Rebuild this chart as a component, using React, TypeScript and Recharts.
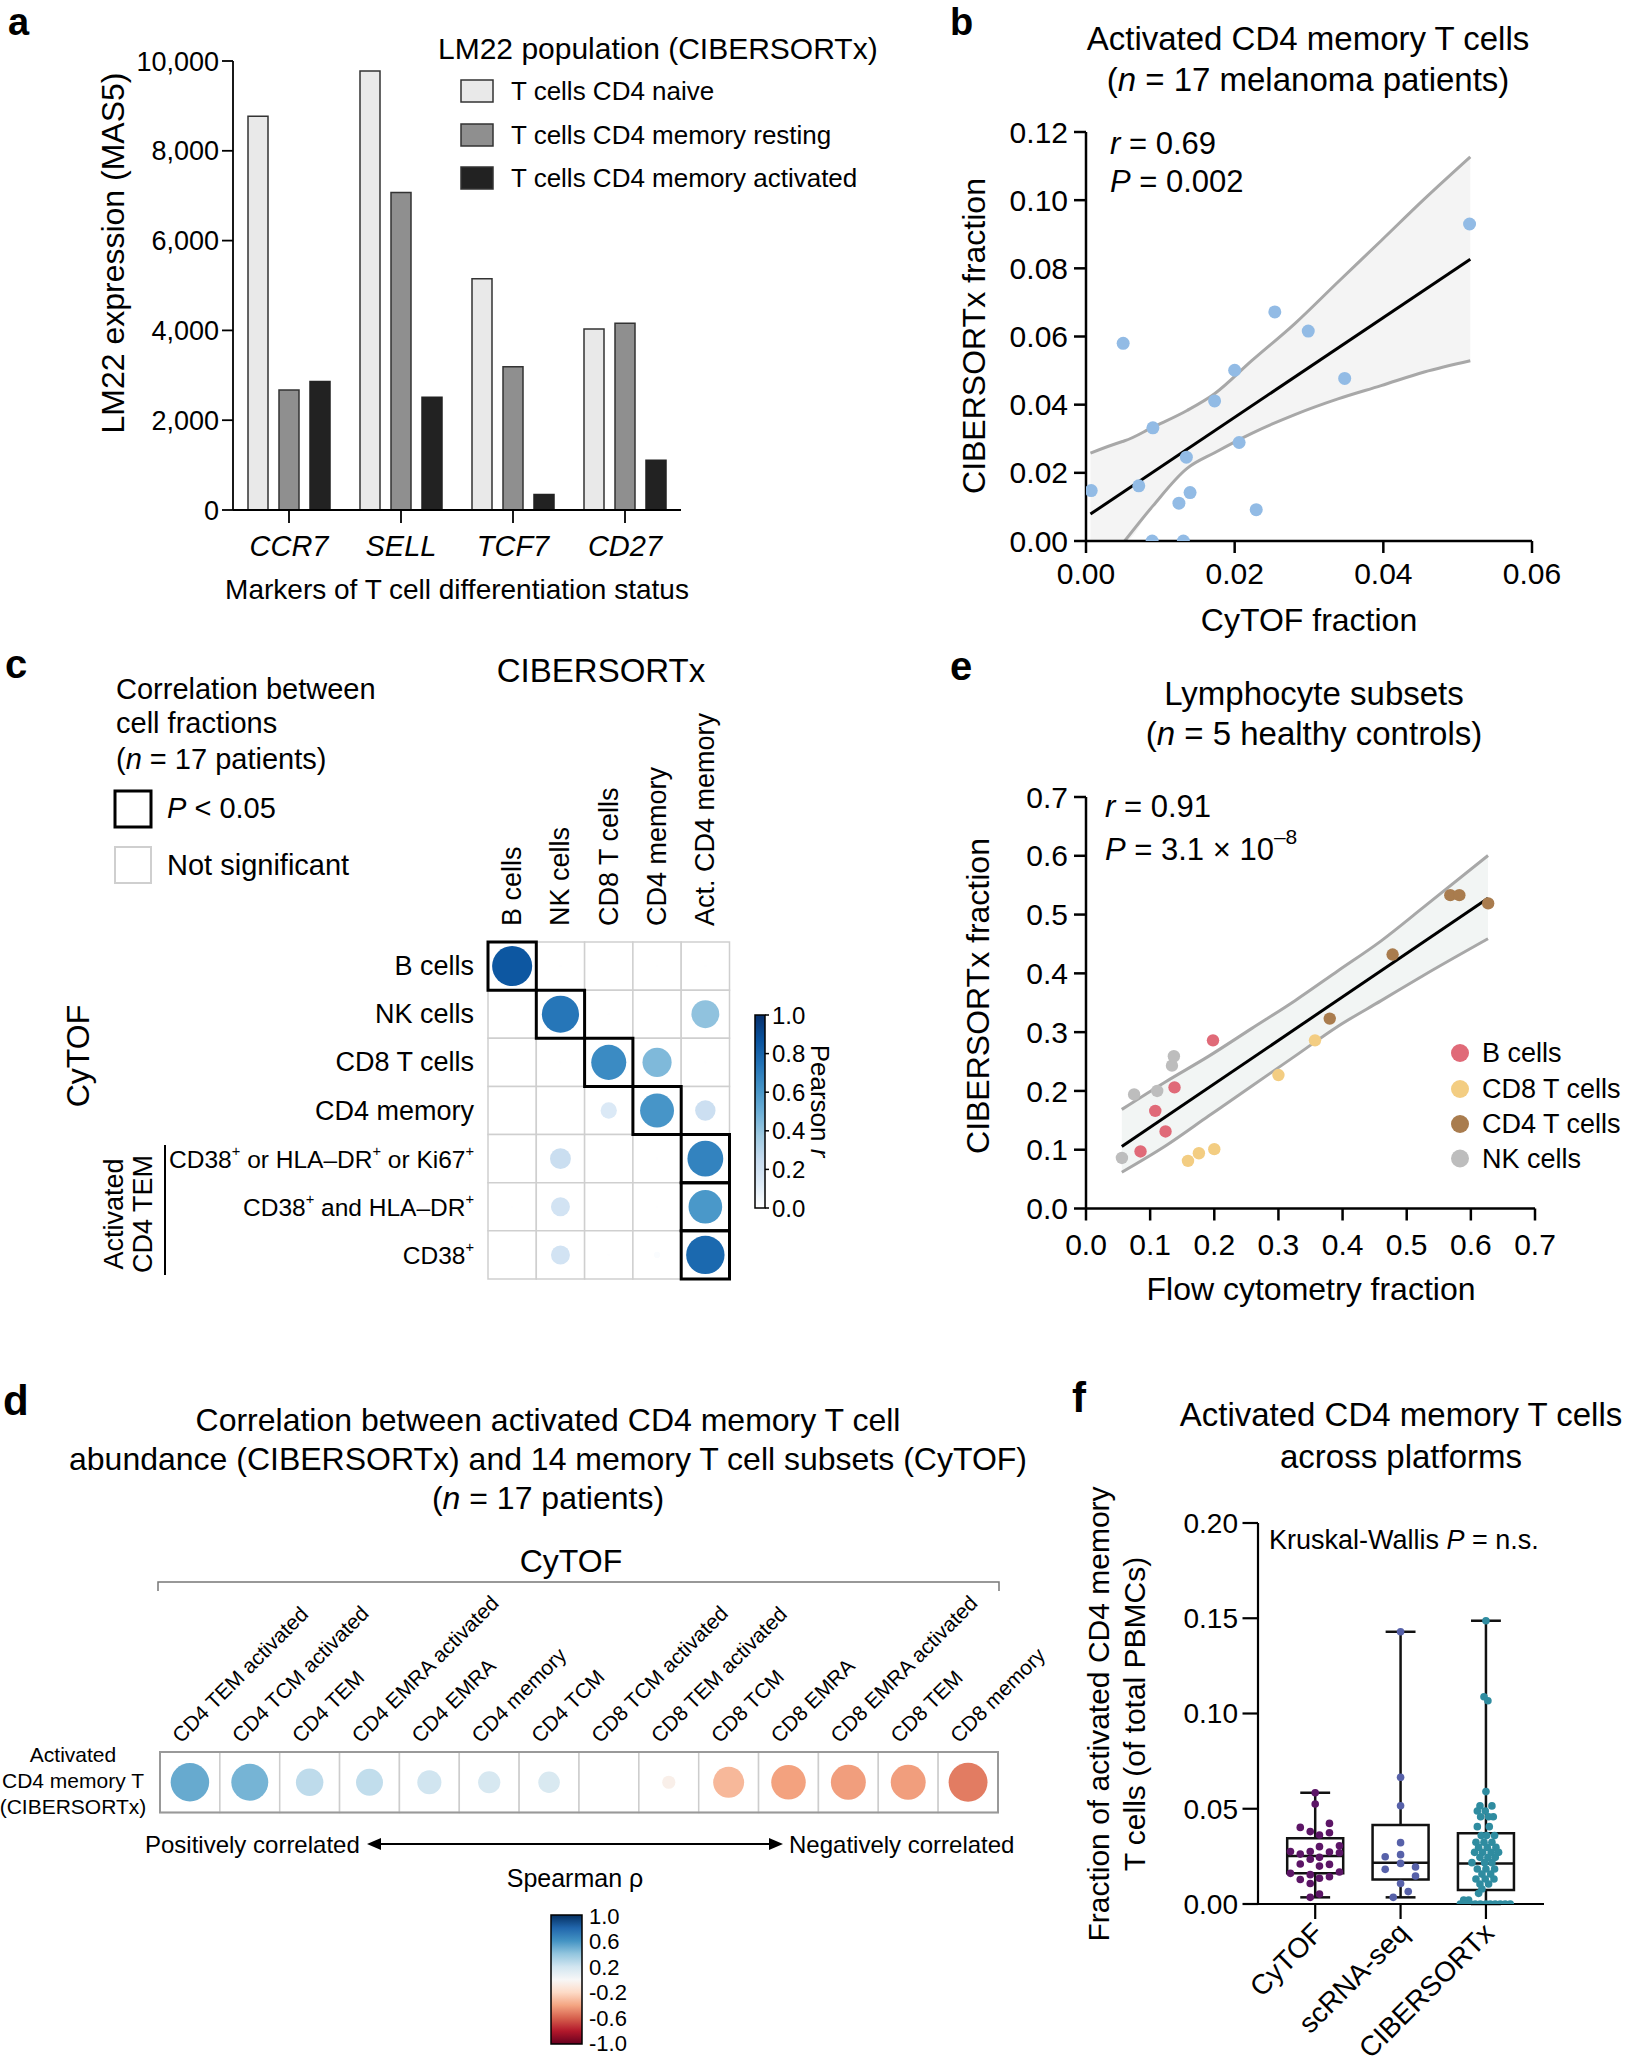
import React from "react";
import {
  Area,
  Bar,
  BarChart,
  ComposedChart,
  Line,
  ReferenceArea,
  ReferenceLine,
  Scatter,
  ScatterChart,
  XAxis,
  YAxis,
} from "recharts";

const FONT = "'Liberation Sans', Arial, Helvetica, sans-serif";

// ---------- a: LM22 expression ----------
const genes = ["CCR7", "SELL", "TCF7", "CD27"];
const lm22Series = ["T cells CD4 naive", "T cells CD4 memory resting", "T cells CD4 memory activated"];
const cd4Naive = [8770, 9780, 5150, 4030];
const cd4Resting = [2670, 7070, 3190, 4160];
const cd4Activated = [2860, 2510, 345, 1110];
const lm22Ticks = [0, 2000, 4000, 6000, 8000, 10000];

// ---------- b: CyTOF vs CIBERSORTx, 17 patients ----------
const cytofFracB = [0.0007, 0.005, 0.0071, 0.009, 0.0089, 0.0131, 0.0125, 0.0135, 0.014, 0.0173, 0.02, 0.0206, 0.0229, 0.0254, 0.0299, 0.0348, 0.0516];
const cibFracB = [0.0148, 0.058, 0.0162, 0.0332, 0, 0, 0.0111, 0.0246, 0.0142, 0.0411, 0.0501, 0.0289, 0.0092, 0.0672, 0.0616, 0.0477, 0.093];
const bandXB = [0.0006, 0.0049, 0.0052, 0.009, 0.0136, 0.0173, 0.0223, 0.0281, 0.0339, 0.0397, 0.0455, 0.0517];
const bandUpB = [0.0258, 0.0292, 0.0294, 0.0334, 0.0383, 0.0432, 0.0529, 0.0638, 0.076, 0.0881, 0.1003, 0.1127];
const bandLowB = [null, null, 0, 0.0103, 0.0213, 0.0259, 0.0316, 0.0371, 0.0417, 0.0456, 0.0496, 0.0529];
const fitB = [{ x: 0.0006, y: 0.0079 }, { x: 0.0517, y: 0.0827 }];
const ticksBX = [0, 0.02, 0.04, 0.06];
const ticksBY = [0, 0.02, 0.04, 0.06, 0.08, 0.1, 0.12];

// ---------- e: flow cytometry vs CIBERSORTx ----------
const lymphNames = ["B cells", "CD8 T cells", "CD4 T cells", "NK cells"];
const lymphColors = ["#e06a78", "#f3cd82", "#a97c4e", "#bdbdbd"];
const flowB = [0.085, 0.108, 0.124, 0.138, 0.198];
const cibB = [0.097, 0.166, 0.131, 0.206, 0.286];
const flowCD8 = [0.159, 0.176, 0.2, 0.3, 0.357];
const cibCD8 = [0.081, 0.094, 0.101, 0.227, 0.286];
const flowCD4 = [0.38, 0.478, 0.568, 0.582, 0.627];
const cibCD4 = [0.323, 0.432, 0.533, 0.533, 0.519];
const flowNK = [0.056, 0.075, 0.111, 0.134, 0.137];
const cibNK = [0.086, 0.194, 0.2, 0.243, 0.259];
const bandXE = [0.0558, 0.1243, 0.1915, 0.2586, 0.3258, 0.393, 0.4602, 0.5273, 0.6268];
const bandUpE = [0.1685, 0.2157, 0.2592, 0.3064, 0.3536, 0.4045, 0.4553, 0.5134, 0.6005];
const bandLowE = [0.0617, 0.1067, 0.1576, 0.2084, 0.2592, 0.3101, 0.3536, 0.3972, 0.4589];
const fitE = [{ x: 0.0558, y: 0.1053 }, { x: 0.6268, y: 0.5279 }];
const ticksE = [0, 0.1, 0.2, 0.3, 0.4, 0.5, 0.6, 0.7];

// ---------- c: Pearson correlation matrix ----------
const cibCols = ["B cells", "NK cells", "CD8 T cells", "CD4 memory", "Act. CD4 memory"];
const cytofRows = ["B cells", "NK cells", "CD8 T cells", "CD4 memory", "CD38^+ or HLA–DR^+ or Ki67^+", "CD38^+ and HLA–DR^+", "CD38^+"];
const pearson = [
  [0.85, 0.004, 0, 0.004, 0.004],
  [0, 0.73, 0.004, 0, 0.41],
  [0, 0.004, 0.65, 0.45, 0.004],
  [0, 0, 0.14, 0.61, 0.22],
  [0, 0.23, 0, 0.004, 0.68],
  [0.004, 0.19, 0, 0.004, 0.6],
  [0, 0.19, 0.004, 0.02, 0.78],
];
const significant = [[0, 0], [1, 1], [2, 2], [3, 3], [4, 4], [5, 4], [6, 4]];
const pearsonTicks = ["1.0", "0.8", "0.6", "0.4", "0.2", "0.0"];

// ---------- d: Spearman strip ----------
const subsets = [
  "CD4 TEM activated", "CD4 TCM activated", "CD4 TEM", "CD4 EMRA activated", "CD4 EMRA", "CD4 memory", "CD4 TCM",
  "CD8 TCM activated", "CD8 TEM activated", "CD8 TCM", "CD8 EMRA", "CD8 EMRA activated", "CD8 TEM", "CD8 memory",
];
const spearman = [0.51, 0.47, 0.26, 0.25, 0.2, 0.17, 0.16, 0, -0.06, -0.33, -0.41, -0.42, -0.42, -0.52];
const spearmanTicks = ["1.0", "0.6", "0.2", "-0.2", "-0.6", "-1.0"];

// ---------- f: across platforms ----------
const platforms = ["CyTOF", "scRNA-seq", "CIBERSORTx"];
const platformColors = ["#5c1566", "#5761a9", "#2f8ca0"];
const cytofVals = [0.0584, 0.0525, 0.0423, 0.0402, 0.038, 0.0362, 0.0374, 0.0301, 0.0306, 0.0275, 0.0262, 0.0275, 0.0273, 0.0269, 0.0235, 0.0245, 0.021, 0.0199, 0.0208, 0.0161, 0.0154, 0.0168, 0.0129, 0.0135, 0.0143, 0.0108, 0.0035, 0.0052];
const cytofSwarm = [0, 0, 0.167, -0.175, -0.058, 0.05, 0.167, 0.05, 0.284, -0.29, -0.175, -0.058, 0.167, 0.284, -0.058, 0.05, -0.175, 0.05, 0.167, -0.29, -0.058, 0.284, -0.175, 0.05, 0.167, -0.058, -0.058, 0.05];
const scVals = [0.1429, 0.0665, 0.0516, 0.0322, 0.0248, 0.0259, 0.0213, 0.0182, 0.0194, 0.0147, 0.0108, 0.0065, 0.0035];
const scSwarm = [0, 0, 0, 0, -0.18, 0, 0, -0.18, 0.175, 0.175, 0, 0.09, -0.086];
const cibVals = [
  0.1487, 0.1088, 0.1067, 0.059, 0.0515, 0.0515, 0.0488, 0.0488, 0.0458, 0.0458, 0.0458, 0.0406, 0.0406,
  0.0359, 0.0359, 0.0359, 0.0324, 0.0324, 0.0324, 0.0297, 0.0297, 0.0297, 0.0271, 0.0271, 0.0271, 0.0271,
  0.0245, 0.0245, 0.0245, 0.0217, 0.0217, 0.0217, 0.0184, 0.0184, 0.0184, 0.0157, 0.0157, 0.0131, 0.0131, 0.0131,
  0.0105, 0.0105, 0.0079, 0.0056, 0.0021, 0.0021, 0, 0, 0, 0, 0, 0, 0, 0, 0, 0, 0,
];
const cibSwarm = [
  0, -0.023, 0.023, 0, -0.07, 0.07, -0.101, -0.008, -0.062, 0.031, 0.086, -0.101, 0.039,
  -0.055, 0.008, 0.101, -0.117, -0.023, 0.07, -0.086, 0.016, 0.117, -0.133, -0.039, 0.062, 0.148,
  -0.07, 0.023, 0.109, -0.164, -0.016, 0.07, -0.101, 0, 0.101, -0.047, 0.055, -0.117, -0.008, 0.094,
  -0.07, 0.031, -0.047, -0.086, -0.261, -0.203, -0.3, -0.242, -0.183, -0.125, -0.066, 0, 0.051, 0.109, 0.168, 0.226, 0.285,
];
const boxMin = [0.0035, 0.0035, 0];
const boxQ1 = [0.0161, 0.0129, 0.0073];
const boxMed = [0.0252, 0.0217, 0.0213];
const boxQ3 = [0.0345, 0.0415, 0.0371];
const boxMax = [0.0584, 0.1429, 0.1487];
const ticksF = [0, 0.05, 0.1, 0.15, 0.2];

// ---------- colour ramps ----------
const BLUES: [number, string][] = [
  [0, "#ffffff"], [0.125, "#deebf7"], [0.25, "#c6dbef"], [0.375, "#9ecae1"], [0.5, "#6baed6"],
  [0.625, "#4292c6"], [0.75, "#2171b5"], [0.875, "#08519c"], [1, "#08306b"],
];
const RDBU: [number, string][] = [
  [-1, "#67001f"], [-0.8, "#b2182b"], [-0.6, "#d6604d"], [-0.4, "#f4a582"], [-0.2, "#fddbc7"], [0, "#f7f7f7"],
  [0.2, "#d1e5f0"], [0.4, "#92c5de"], [0.6, "#4393c3"], [0.8, "#2166ac"], [1, "#053061"],
];

function rgb(h: string) {
  const n = parseInt(h.slice(1), 16);
  return [(n >> 16) & 255, (n >> 8) & 255, n & 255];
}
function ramp(stops: [number, string][], v: number) {
  if (v <= stops[0][0]) return stops[0][1];
  for (let i = 1; i < stops.length; i++) {
    if (v <= stops[i][0]) {
      const t = (v - stops[i - 1][0]) / (stops[i][0] - stops[i - 1][0]);
      const a = rgb(stops[i - 1][1]);
      const b = rgb(stops[i][1]);
      return `rgb(${a.map((c, k) => Math.round(c + (b[k] - c) * t)).join(",")})`;
    }
  }
  return stops[stops.length - 1][1];
}

const CELL_C = 48.3;
const CELL_D = 59.9;

const dataA = genes.map((g, i) => ({ gene: g, naive: cd4Naive[i], resting: cd4Resting[i], activated: cd4Activated[i] }));
const bandB = bandXB.map((x, i) => ({ x, up: bandUpB[i], low: bandLowB[i], base: bandLowB[i] ?? 0 }));
const ptsB = cytofFracB.map((x, i) => ({ x, y: cibFracB[i] }));
const bandE = bandXE.map((x, i) => ({ x, up: bandUpE[i], low: bandLowE[i] }));
const lymphPts = [
  flowB.map((x, i) => ({ x, y: cibB[i] })),
  flowCD8.map((x, i) => ({ x, y: cibCD8[i] })),
  flowCD4.map((x, i) => ({ x, y: cibCD4[i] })),
  flowNK.map((x, i) => ({ x, y: cibNK[i] })),
];
const cellsC = cytofRows.flatMap((_, r) => cibCols.map((__, c) => ({ x: c, y: r, v: pearson[r][c] })));
const cellsD = subsets.map((_, i) => ({ x: i, y: 0, v: spearman[i] }));
const platformPts = [
  cytofVals.map((y, i) => ({ x: 1 + cytofSwarm[i], y })),
  scVals.map((y, i) => ({ x: 2 + scSwarm[i], y })),
  cibVals.map((y, i) => ({ x: 3 + cibSwarm[i], y })),
];

const axisStyle = { stroke: "#000", strokeWidth: 2.5 };
const dot = (r: number, fill: string) => (p: any) => <circle cx={p.cx} cy={p.cy} r={r} fill={fill} />;

function SupLabel({ s, fs }: { s: string; fs: number }) {
  const parts = s.split("^+");
  const out: any[] = [];
  parts.forEach((p, i) => {
    out.push(<tspan key={"t" + i} dy={i > 0 ? 8 : 0}>{p}</tspan>);
    if (i < parts.length - 1) out.push(<tspan key={"s" + i} dy={-8} fontSize={fs * 0.6}>+</tspan>);
  });
  return <>{out}</>;
}

const T = (p: any) => <text fill="#000" dominantBaseline="central" {...p} />;

function Overlay() {
  return (
    <svg width={1626} height={2070} style={{ position: "absolute", left: 0, top: 0, pointerEvents: "none" }} fontFamily={FONT}>
      <defs>
        <linearGradient id="gradC" x1="0" y1="0" x2="0" y2="1">
          {BLUES.slice().reverse().map(([v, c]) => <stop key={v} offset={`${(1 - v) * 100}%`} stopColor={c} />)}
        </linearGradient>
        <linearGradient id="gradD" x1="0" y1="0" x2="0" y2="1">
          {RDBU.slice().reverse().map(([v, c]) => <stop key={v} offset={`${((1 - v) / 2) * 100}%`} stopColor={c} />)}
        </linearGradient>
      </defs>
      {/* panel letters */}
      <text x={8} y={35} fontSize={38} fontWeight="bold">a</text>
      <text x={950} y={35} fontSize={38} fontWeight="bold">b</text>
      <text x={5} y={678} fontSize={40} fontWeight="bold">c</text>
      <text x={950} y={680} fontSize={40} fontWeight="bold">e</text>
      <text x={3} y={1415} fontSize={42} fontWeight="bold">d</text>
      <text x={1072} y={1412} fontSize={42} fontWeight="bold">f</text>

      {/* a */}
      <T x={438} y={48} fontSize={30}>LM22 population (CIBERSORTx)</T>
      {lm22Series.map((s, i) => (
        <g key={s}>
          <rect x={461} y={[91, 135, 178][i] - 11} width={32} height={22} fill={["#e9e9e9", "#8f8f8f", "#222"][i]} stroke="#333" strokeWidth={1.5} />
          <T x={511} y={[91, 135, 178][i]} fontSize={26}>{s}</T>
        </g>
      ))}
      <T x={113} y={253} fontSize={32} textAnchor="middle" transform="rotate(-90 113 253)">LM22 expression (MAS5)</T>
      <T x={457} y={589} fontSize={28} textAnchor="middle">Markers of T cell differentiation status</T>

      {/* b */}
      <T x={1308} y={38} fontSize={33} textAnchor="middle">Activated CD4 memory T cells</T>
      <T x={1308} y={79} fontSize={33} textAnchor="middle">(<tspan fontStyle="italic">n</tspan> = 17 melanoma patients)</T>
      <T x={1110} y={143} fontSize={31}><tspan fontStyle="italic">r</tspan> = 0.69</T>
      <T x={1110} y={181} fontSize={31}><tspan fontStyle="italic">P</tspan> = 0.002</T>
      <T x={974} y={336} fontSize={32} textAnchor="middle" transform="rotate(-90 974 336)">CIBERSORTx fraction</T>
      <T x={1309} y={620} fontSize={32} textAnchor="middle">CyTOF fraction</T>

      {/* e */}
      <T x={1314} y={693} fontSize={33} textAnchor="middle">Lymphocyte subsets</T>
      <T x={1314} y={733} fontSize={33} textAnchor="middle">(<tspan fontStyle="italic">n</tspan> = 5 healthy controls)</T>
      <T x={1105} y={806} fontSize={31}><tspan fontStyle="italic">r</tspan> = 0.91</T>
      <T x={1105} y={849} fontSize={31}><tspan fontStyle="italic">P</tspan> = 3.1 × 10<tspan dy={-13} fontSize={21}>–8</tspan></T>
      <T x={978} y={996} fontSize={32} textAnchor="middle" transform="rotate(-90 978 996)">CIBERSORTx fraction</T>
      <T x={1311} y={1289} fontSize={32} textAnchor="middle">Flow cytometry fraction</T>
      {lymphNames.map((s, i) => (
        <g key={s}>
          <circle cx={1460} cy={[1053, 1089, 1124, 1158.5][i]} r={9} fill={lymphColors[i]} />
          <T x={1482} y={[1053, 1089, 1124, 1158.5][i]} fontSize={27}>{s}</T>
        </g>
      ))}

      {/* c */}
      <T x={601} y={670} fontSize={33} textAnchor="middle">CIBERSORTx</T>
      <T x={116} y={689} fontSize={29}>Correlation between</T>
      <T x={116} y={723} fontSize={29}>cell fractions</T>
      <T x={116} y={759} fontSize={29}>(<tspan fontStyle="italic">n</tspan> = 17 patients)</T>
      <rect x={115} y={791} width={36} height={36} fill="none" stroke="#000" strokeWidth={3} />
      <T x={167} y={808} fontSize={29}><tspan fontStyle="italic">P</tspan> &lt; 0.05</T>
      <rect x={115} y={847} width={36} height={36} fill="none" stroke="#cfcfcf" strokeWidth={2} />
      <T x={167} y={865} fontSize={29}>Not significant</T>
      <T x={78} y={1056} fontSize={32} textAnchor="middle" transform="rotate(-90 78 1056)">CyTOF</T>
      <T x={114} y={1214} fontSize={27} textAnchor="middle" transform="rotate(-90 114 1214)">Activated</T>
      <T x={143} y={1214} fontSize={27} textAnchor="middle" transform="rotate(-90 143 1214)">CD4 TEM</T>
      <line x1={165} y1={1145} x2={165} y2={1275} stroke="#000" strokeWidth={2} />
      <rect x={755} y={1015} width={10} height={193} fill="url(#gradC)" stroke="#000" strokeWidth={1.5} />
      {pearsonTicks.map((s, i) => (
        <g key={s}>
          <line x1={765} x2={769} y1={1015 + i * 38.6} y2={1015 + i * 38.6} stroke="#000" strokeWidth={1.5} />
          <T x={772} y={1015 + i * 38.6} fontSize={24}>{s}</T>
        </g>
      ))}
      <T x={820} y={1101} fontSize={26} textAnchor="middle" transform="rotate(90 820 1101)">Pearson <tspan fontStyle="italic">r</tspan></T>

      {/* d */}
      <T x={548} y={1420} fontSize={32} textAnchor="middle">Correlation between activated CD4 memory T cell</T>
      <T x={548} y={1459} fontSize={32} textAnchor="middle">abundance (CIBERSORTx) and 14 memory T cell subsets (CyTOF)</T>
      <T x={548} y={1498} fontSize={32} textAnchor="middle">(<tspan fontStyle="italic">n</tspan> = 17 patients)</T>
      <T x={571} y={1561} fontSize={32} textAnchor="middle">CyTOF</T>
      <path d="M158,1591 V1582 H999 V1591" fill="none" stroke="#777" strokeWidth={1.5} />
      <T x={73} y={1754} fontSize={21} textAnchor="middle">Activated</T>
      <T x={73} y={1780} fontSize={21} textAnchor="middle">CD4 memory T</T>
      <T x={73} y={1806} fontSize={21} textAnchor="middle">(CIBERSORTx)</T>
      <T x={145} y={1844} fontSize={24}>Positively correlated</T>
      <T x={789} y={1844} fontSize={24}>Negatively correlated</T>
      <line x1={376} x2={774} y1={1844} y2={1844} stroke="#000" strokeWidth={2} />
      <polygon points="367,1844 381,1838 381,1850" fill="#000" />
      <polygon points="783,1844 769,1838 769,1850" fill="#000" />
      <T x={575} y={1878} fontSize={25} textAnchor="middle">Spearman ρ</T>
      <rect x={551} y={1915} width={31} height={129} fill="url(#gradD)" stroke="#000" strokeWidth={1.5} />
      {spearmanTicks.map((s, i) => (
        <T key={s} x={589} y={1916 + i * 25.5} fontSize={22}>{s}</T>
      ))}

      {/* f */}
      <T x={1401} y={1414} fontSize={33} textAnchor="middle">Activated CD4 memory T cells</T>
      <T x={1401} y={1456} fontSize={33} textAnchor="middle">across platforms</T>
      <T x={1098} y={1714} fontSize={30} textAnchor="middle" transform="rotate(-90 1098 1714)">Fraction of activated CD4 memory</T>
      <T x={1134} y={1714} fontSize={30} textAnchor="middle" transform="rotate(-90 1134 1714)">T cells (of total PBMCs)</T>
      <T x={1269} y={1540} fontSize={27}>Kruskal-Wallis <tspan fontStyle="italic">P</tspan> = n.s.</T>
    </svg>
  );
}

export default function App() {
  const tickFont = (fs: number) => ({ fontSize: fs, fill: "#000" });
  return (
    <div style={{ position: "absolute", left: 0, top: 0, width: 1626, height: 2070, background: "#fff", fontFamily: FONT }}>
      {/* a */}
      <div style={{ position: "absolute", left: 0, top: 0 }}>
        <BarChart width={700} height={580} data={dataA} margin={{ top: 61, right: 19, left: 0, bottom: 0 }} barCategoryGap={15} barGap={11}>
          <XAxis dataKey="gene" height={70} interval={0} tickSize={13} tickMargin={12}
            axisLine={{ stroke: "#000", strokeWidth: 1.8 }} tickLine={{ stroke: "#000", strokeWidth: 1.8 }}
            tick={{ fontSize: 29, fontStyle: "italic", fill: "#000" }} />
          <YAxis width={233} domain={[0, 10000]} ticks={lm22Ticks} tickSize={11} tickMargin={3}
            tickFormatter={(v: number) => v.toLocaleString("en-US")}
            axisLine={{ stroke: "#000", strokeWidth: 1.8 }} tickLine={{ stroke: "#000", strokeWidth: 1.8 }} tick={tickFont(27)} />
          <Bar dataKey="naive" fill="#e9e9e9" stroke="#333" strokeWidth={1.5} isAnimationActive={false} />
          <Bar dataKey="resting" fill="#8f8f8f" stroke="#333" strokeWidth={1.5} isAnimationActive={false} />
          <Bar dataKey="activated" fill="#222" stroke="#222" strokeWidth={1.5} isAnimationActive={false} />
        </BarChart>
      </div>

      {/* b */}
      <div style={{ position: "absolute", left: 950, top: 100 }}>
        <ComposedChart width={620} height={500} data={bandB} margin={{ top: 32, right: 38, left: 0, bottom: 0 }}>
          <XAxis type="number" dataKey="x" domain={[0, 0.06]} ticks={ticksBX} height={59} tickSize={12} tickMargin={10}
            tickFormatter={(v: number) => v.toFixed(2)} axisLine={axisStyle} tickLine={axisStyle} tick={tickFont(30)} allowDataOverflow />
          <YAxis type="number" domain={[0, 0.12]} ticks={ticksBY} width={136} tickSize={12} tickMargin={6}
            tickFormatter={(v: number) => v.toFixed(2)} axisLine={axisStyle} tickLine={axisStyle} tick={tickFont(30)} allowDataOverflow />
          <Area dataKey={(d: any) => [d.base, d.up]} type="monotone" fill="#f4f4f4" fillOpacity={1} stroke="none" isAnimationActive={false} />
          <Line dataKey="up" type="monotone" stroke="#a8a8a8" strokeWidth={3} dot={false} isAnimationActive={false} />
          <Line dataKey="low" type="monotone" stroke="#a8a8a8" strokeWidth={3} dot={false} isAnimationActive={false} />
          <ReferenceLine segment={fitB} stroke="#000" strokeWidth={3} />
          <Scatter data={ptsB} dataKey="y" shape={dot(6.5, "#92bbe5")} isAnimationActive={false} />
        </ComposedChart>
      </div>

      {/* e */}
      <div style={{ position: "absolute", left: 950, top: 760 }}>
        <ComposedChart width={620} height={510} data={bandE} margin={{ top: 37, right: 35, left: 0, bottom: 0 }}>
          <XAxis type="number" dataKey="x" domain={[0, 0.7]} ticks={ticksE} height={61.5} tickSize={12} tickMargin={13}
            tickFormatter={(v: number) => v.toFixed(1)} axisLine={axisStyle} tickLine={axisStyle} tick={tickFont(30)} allowDataOverflow />
          <YAxis type="number" domain={[0, 0.7]} ticks={ticksE} width={136} tickSize={12} tickMargin={6}
            tickFormatter={(v: number) => v.toFixed(1)} axisLine={axisStyle} tickLine={axisStyle} tick={tickFont(30)} allowDataOverflow />
          <Area dataKey={(d: any) => [d.low, d.up]} type="monotone" fill="#f2f5f4" fillOpacity={1} stroke="none" isAnimationActive={false} />
          <Line dataKey="up" type="monotone" stroke="#a8a8a8" strokeWidth={3} dot={false} isAnimationActive={false} />
          <Line dataKey="low" type="monotone" stroke="#a8a8a8" strokeWidth={3} dot={false} isAnimationActive={false} />
          <ReferenceLine segment={fitE} stroke="#000" strokeWidth={3} />
          {lymphPts.map((pts, i) => (
            <Scatter key={lymphNames[i]} data={pts} dataKey="y" shape={dot(6.2, lymphColors[i])} isAnimationActive={false} />
          ))}
        </ComposedChart>
      </div>

      {/* c */}
      <div style={{ position: "absolute", left: 150, top: 700 }}>
        <ScatterChart width={620} height={590} margin={{ top: 0, right: 40.5, left: 0, bottom: 11 }}>
          <XAxis type="number" dataKey="x" orientation="top" domain={[-0.5, 4.5]} ticks={[0, 1, 2, 3, 4]} interval={0}
            height={242} axisLine={false} tickLine={false} tickSize={0} tickMargin={16}
            tick={(p: any) => (
              <text x={p.x} y={p.y} transform={`rotate(-90 ${p.x} ${p.y})`} fontSize={27} fill="#000" dominantBaseline="central">
                {cibCols[p.payload.value]}
              </text>
            )} />
          <YAxis type="number" dataKey="y" domain={[-0.5, 6.5]} reversed ticks={[0, 1, 2, 3, 4, 5, 6]} interval={0}
            width={338} axisLine={false} tickLine={false} tickSize={0} tickMargin={14}
            tick={(p: any) => {
              const s = cytofRows[p.payload.value];
              const fs = s.includes("^+") ? 24.5 : 27;
              return (
                <text x={p.x} y={p.y} fontSize={fs} fill="#000" textAnchor="end" dominantBaseline="central">
                  <SupLabel s={s} fs={fs} />
                </text>
              );
            }} />
          {cellsC.map((c) => (
            <ReferenceArea key={`g${c.x}-${c.y}`} x1={c.x - 0.5} x2={c.x + 0.5} y1={c.y - 0.5} y2={c.y + 0.5}
              fill="#fff" fillOpacity={1} stroke="#cfcfcf" strokeWidth={1.5} ifOverflow="visible" />
          ))}
          {significant.map(([r, c]) => (
            <ReferenceArea key={`s${r}-${c}`} x1={c - 0.5} x2={c + 0.5} y1={r - 0.5} y2={r + 0.5}
              fill="none" stroke="#000" strokeWidth={3} ifOverflow="visible" />
          ))}
          <Scatter data={cellsC} isAnimationActive={false}
            shape={(p: any) => (
              <circle cx={p.cx} cy={p.cy} r={Math.sqrt(Math.abs(p.payload.v)) * 0.45 * CELL_C} fill={ramp(BLUES, p.payload.v)} />
            )} />
        </ScatterChart>
      </div>

      {/* d */}
      <div style={{ position: "absolute", left: 0, top: 1500 }}>
        <ScatterChart width={1060} height={330} margin={{ top: 0, right: 62, left: 0, bottom: 17.5 }}>
          <XAxis type="number" dataKey="x" orientation="top" domain={[-0.5, 13.5]} ticks={subsets.map((_, i) => i)} interval={0}
            height={252} axisLine={false} tickLine={false} tickSize={0} tickMargin={8}
            tick={(p: any) => (
              <text x={p.x - 9} y={p.y} transform={`rotate(-45 ${p.x - 9} ${p.y})`} fontSize={21} fill="#000">
                {subsets[p.payload.value]}
              </text>
            )} />
          <YAxis type="number" dataKey="y" domain={[-0.5, 0.5]} width={160} axisLine={false} tickLine={false} tick={false} />
          {cellsD.map((c) => (
            <ReferenceArea key={`d${c.x}`} x1={c.x - 0.5} x2={c.x + 0.5} y1={-0.5} y2={0.5}
              fill="#fff" fillOpacity={1} stroke="#cdcdcd" strokeWidth={1.5} ifOverflow="visible" />
          ))}
          <ReferenceArea x1={-0.5} x2={13.5} y1={-0.5} y2={0.5} fill="none" stroke="#999" strokeWidth={2} ifOverflow="visible" />
          <Scatter data={cellsD} isAnimationActive={false}
            shape={(p: any) => (
              <circle cx={p.cx} cy={p.cy} r={Math.sqrt(Math.abs(p.payload.v)) * 0.45 * CELL_D} fill={ramp(RDBU, p.payload.v)} />
            )} />
        </ScatterChart>
      </div>

      {/* f */}
      <div style={{ position: "absolute", left: 1060, top: 1480 }}>
        <ComposedChart width={520} height={590} margin={{ top: 43, right: 36, left: 0, bottom: 0 }}>
          <XAxis type="number" dataKey="x" domain={[0.33, 3.68]} ticks={[1, 2, 3]} interval={0} height={166}
            tickSize={15} tickMargin={0} axisLine={{ stroke: "#000", strokeWidth: 2.2 }} tickLine={{ stroke: "#000", strokeWidth: 2.2 }}
            allowDataOverflow
            tick={(p: any) => (
              <text x={p.x + 3} y={p.y + 9} transform={`rotate(-45 ${p.x + 3} ${p.y + 9})`} fontSize={28} fill="#000"
                textAnchor="end" dominantBaseline="central">
                {platforms[p.payload.value - 1]}
              </text>
            )} />
          <YAxis type="number" domain={[0, 0.2]} ticks={ticksF} width={198} tickSize={15.5} tickMargin={4.5}
            tickFormatter={(v: number) => v.toFixed(2)} axisLine={{ stroke: "#000", strokeWidth: 2.2 }}
            tickLine={{ stroke: "#000", strokeWidth: 2.2 }} tick={tickFont(28)} allowDataOverflow />
          {platforms.map((name, i) => {
            const c = i + 1;
            return [
              <ReferenceLine key={name + "w1"} segment={[{ x: c, y: boxMin[i] }, { x: c, y: boxQ1[i] }]} stroke="#111" strokeWidth={2.5} ifOverflow="visible" />,
              <ReferenceLine key={name + "w2"} segment={[{ x: c, y: boxQ3[i] }, { x: c, y: boxMax[i] }]} stroke="#111" strokeWidth={2.5} ifOverflow="visible" />,
              <ReferenceLine key={name + "c1"} segment={[{ x: c - 0.175, y: boxMin[i] }, { x: c + 0.175, y: boxMin[i] }]} stroke="#111" strokeWidth={2.5} ifOverflow="visible" />,
              <ReferenceLine key={name + "c2"} segment={[{ x: c - 0.175, y: boxMax[i] }, { x: c + 0.175, y: boxMax[i] }]} stroke="#111" strokeWidth={2.5} ifOverflow="visible" />,
              <ReferenceArea key={name + "b"} x1={c - 0.328} x2={c + 0.328} y1={boxQ1[i]} y2={boxQ3[i]} fill="none" stroke="#111" strokeWidth={2.5} ifOverflow="visible" />,
              <ReferenceLine key={name + "m"} segment={[{ x: c - 0.328, y: boxMed[i] }, { x: c + 0.328, y: boxMed[i] }]} stroke="#111" strokeWidth={2.5} ifOverflow="visible" />,
            ];
          })}
          {platformPts.map((pts, i) => (
            <Scatter key={platforms[i]} data={pts} dataKey="y" shape={dot(3.8, platformColors[i])} isAnimationActive={false} />
          ))}
        </ComposedChart>
      </div>

      <Overlay />
    </div>
  );
}
